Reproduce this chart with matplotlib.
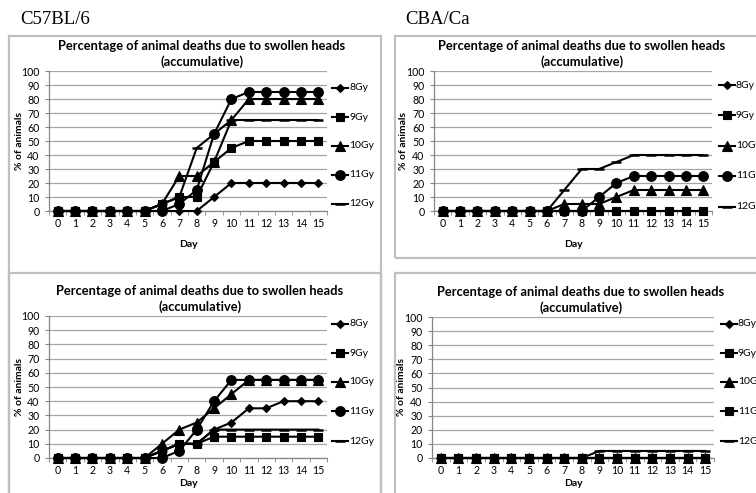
import numpy as np
import matplotlib
matplotlib.use("Agg")
import matplotlib.pyplot as plt
from matplotlib.patches import Rectangle
from matplotlib.lines import Line2D

plt.rcParams['font.family'] = ['Lato', 'DejaVu Sans']

W, H = 756, 493

days = list(range(16))
doses = ['8Gy', '9Gy', '10Gy', '11Gy', '12Gy']

# C57BL/6, first experiment (top left)
c57_a_8 = [0, 0, 0, 0, 0, 0, 0, 0, 0, 10, 20, 20, 20, 20, 20, 20]
c57_a_9 = [0, 0, 0, 0, 0, 0, 5, 10, 10, 35, 45, 50, 50, 50, 50, 50]
c57_a_10 = [0, 0, 0, 0, 0, 0, 5, 25, 25, 35, 65, 80, 80, 80, 80, 80]
c57_a_11 = [0, 0, 0, 0, 0, 0, 0, 5, 15, 55, 80, 85, 85, 85, 85, 85]
c57_a_12 = [0, 0, 0, 0, 0, 0, 5, 10, 45, 55, 65, 65, 65, 65, 65, 65]

# CBA/Ca, first experiment (top right)
cba_a_8 = [0] * 16
cba_a_9 = [0] * 16
cba_a_10 = [0, 0, 0, 0, 0, 0, 0, 5, 5, 5, 10, 15, 15, 15, 15, 15]
cba_a_11 = [0, 0, 0, 0, 0, 0, 0, 0, 0, 10, 20, 25, 25, 25, 25, 25]
cba_a_12 = [0, 0, 0, 0, 0, 0, 0, 15, 30, 30, 35, 40, 40, 40, 40, 40]

# C57BL/6, second experiment (bottom left)
c57_b_8 = [0, 0, 0, 0, 0, 0, 5, 10, 10, 20, 25, 35, 35, 40, 40, 40]
c57_b_9 = [0, 0, 0, 0, 0, 0, 5, 10, 10, 15, 15, 15, 15, 15, 15, 15]
c57_b_10 = [0, 0, 0, 0, 0, 0, 10, 20, 25, 35, 45, 55, 55, 55, 55, 55]
c57_b_11 = [0, 0, 0, 0, 0, 0, 0, 5, 20, 40, 55, 55, 55, 55, 55, 55]
c57_b_12 = [0, 0, 0, 0, 0, 0, 5, 10, 10, 20, 20, 20, 20, 20, 20, 20]

# CBA/Ca, second experiment (bottom right)
cba_b_8 = [0] * 16
cba_b_9 = [0] * 16
cba_b_10 = [0] * 16
cba_b_11 = [0] * 16
cba_b_12 = [0, 0, 0, 0, 0, 0, 0, 0, 0, 5, 5, 5, 5, 5, 5, 5]

title = 'Percentage of animal deaths due to swollen heads\n(accumulative)'

marker_a = {'8Gy': ('D', 4.2), '9Gy': ('s', 6), '10Gy': ('^', 6.5),
            '11Gy': ('o', 7), '12Gy': ('_', 7.5)}
# the last chart uses squares for 11Gy
marker_b = dict(marker_a)
marker_b['11Gy'] = ('s', 6)

fig = plt.figure(figsize=(W / 100, H / 100), dpi=100)
fig.patch.set_facecolor('white')


def fx(x):
    return x / W


def fy(y):
    return 1 - y / H


def panel(box, area, series, markers, title_x, ylab_x, day_dy, leg_x, leg_ys):
    # chart border
    bx0, by0, bx1, by1 = box
    fig.add_artist(Rectangle((fx(bx0), fy(by1)), (bx1 - bx0) / W, (by1 - by0) / H,
                             transform=fig.transFigure, fill=False,
                             edgecolor='#bfbfbf', lw=1.6))
    left, top, right, bottom = area
    ax = fig.add_axes([fx(left), fy(bottom), (right - left) / W, (bottom - top) / H])
    for dose, vals in zip(doses, series):
        m, ms = markers[dose]
        ax.plot(days, vals, color='black', lw=1.5, marker=m, ms=ms,
                markeredgewidth=1.8 if m == '_' else 0.8, clip_on=False, zorder=3)
    ax.set_xlim(-0.5, 15.5)
    ax.set_ylim(0, 100)
    ax.set_yticks(range(0, 101, 10))
    ax.set_xticks(days)
    ax.set_xticks(np.arange(-0.5, 16, 1), minor=True)
    ax.tick_params(axis='x', which='major', length=0, pad=5, labelsize=7.6)
    ax.tick_params(axis='x', which='minor', length=3, color='#868686', direction='out')
    ax.tick_params(axis='y', length=3, color='#868686', pad=4, labelsize=7.6)
    ax.grid(axis='y', color='#a6a6a6', lw=0.9)
    ax.set_axisbelow(True)
    for s in ['top', 'right']:
        ax.spines[s].set_visible(False)
    for s in ['left', 'bottom']:
        ax.spines[s].set_color('#868686')
        ax.spines[s].set_linewidth(0.9)
    fig.text(fx((left + right) / 2), fy(bottom + day_dy), 'Day', ha='center', va='center',
             fontsize=7.5, fontweight='bold')
    fig.text(fx(ylab_x), fy((top + bottom) / 2), '% of animals', ha='center',
             va='center', rotation=90, fontsize=7.5, fontweight='bold')
    fig.text(fx(title_x), fy(top - 17), title, ha='center', va='center',
             fontsize=9.3, fontweight='bold', linespacing=1.3)
    # legend on the right
    for dose, ly in zip(doses, leg_ys):
        m, ms = markers[dose]
        fig.add_artist(Line2D([fx(leg_x), fx(leg_x + 8), fx(leg_x + 16)], [fy(ly)] * 3,
                              transform=fig.transFigure, color='black', lw=1.5,
                              marker=m, ms=ms, markevery=[1],
                              markeredgewidth=1.8 if m == '_' else 0.8))
        fig.text(fx(leg_x + 17), fy(ly), dose, ha='left', va='center', fontsize=7.5)
    return ax


panel((9, 36, 381, 520), (49, 71, 327, 211),
      [c57_a_8, c57_a_9, c57_a_10, c57_a_11, c57_a_12], marker_a,
      202, 20, 33, 332, [88, 117, 146, 175, 204])
panel((395, 36, 800, 258), (434, 71, 712, 211),
      [cba_a_8, cba_a_9, cba_a_10, cba_a_11, cba_a_12], marker_a,
      582, 404, 33, 719, [85, 115, 146, 176, 207])
panel((9, 273, 381, 520), (49, 316, 327, 458),
      [c57_b_8, c57_b_9, c57_b_10, c57_b_11, c57_b_12], marker_a,
      200, 20, 25, 332, [324, 353, 382, 411, 441])
panel((395, 273, 800, 520), (432, 317, 714, 458),
      [cba_b_8, cba_b_9, cba_b_10, cba_b_11, cba_b_12], marker_b,
      581, 402, 25, 721, [324, 353, 382, 411, 441])

# strain headings
fig.text(fx(20), fy(19), 'C57BL/6', ha='left', va='center', fontsize=13.5,
         family='Liberation Serif')
fig.text(fx(405), fy(19), 'CBA/Ca', ha='left', va='center', fontsize=13.5,
         family='Liberation Serif')

fig.savefig('out.png', dpi=100)
